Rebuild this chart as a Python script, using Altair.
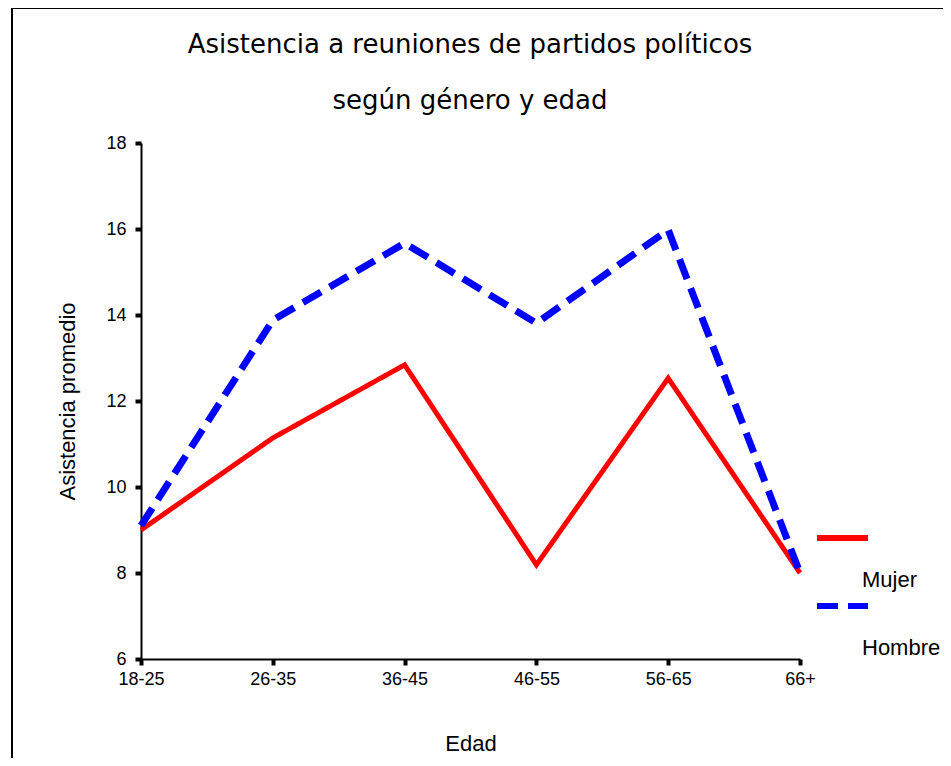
import altair as alt
import pandas as pd

edades = ["18-25", "26-35", "36-45", "46-55", "56-65", "66+"]
mujer = [9.0, 11.14, 12.84, 8.19, 12.53, 8.0]
hombre = [9.1, 13.88, 15.67, 13.81, 15.98, 8.0]
series = ["Mujer", "Hombre"]
colores = ["#FF0000", "#0000FF"]
y_ticks = [6, 8, 10, 12, 14, 16, 18]
titulo = ["Asistencia a reuniones de partidos políticos", "según género y edad"]

rows = []
for s, vals in zip(series, [mujer, hombre]):
    for e, v in zip(edades, vals):
        rows.append({"Edad": e, "Asistencia": v, "Serie": s})
df = pd.DataFrame(rows)
leg_df = pd.DataFrame({"Serie": series})
tit_df = pd.DataFrame({"t": titulo})

color = alt.Color("Serie:N", scale=alt.Scale(domain=series, range=colores), legend=None)
dash = alt.StrokeDash("Serie:N", scale=alt.Scale(domain=series, range=[[1, 0], [21, 10]]), legend=None)
width_enc = alt.StrokeWidth("Serie:N", scale=alt.Scale(domain=series, range=[5, 7]), legend=None)

lines = alt.Chart(df).mark_line(strokeCap="butt", strokeJoin="miter").encode(
    x=alt.X("Edad:N", sort=edades, scale=alt.Scale(type="point", padding=0),
            axis=alt.Axis(title="Edad", labelAngle=0, titlePadding=45)),
    y=alt.Y("Asistencia:Q", scale=alt.Scale(domain=[6, 18], nice=False),
            axis=alt.Axis(title="Asistencia promedio", values=y_ticks, titlePadding=26)),
    color=color,
    strokeDash=dash,
    strokeWidth=width_enc,
    order=alt.Order("Serie:N"),
)

leg_y = alt.Y("Serie:N", scale=alt.Scale(type="point", domain=series, range=[395, 463], padding=0), axis=None)

leg_rules = alt.Chart(leg_df).mark_rule(strokeCap="butt").encode(
    x=alt.value(676), x2=alt.value(727), y=leg_y,
    color=color, strokeDash=dash, strokeWidth=alt.value(6),
)
leg_text = alt.Chart(leg_df).mark_text(
    align="left", baseline="middle", dy=42, fontSize=22, font="Liberation Sans", color="black"
).encode(x=alt.value(721), y=leg_y, text="Serie:N")

tit_y = alt.Y("t:N", sort=titulo, scale=alt.Scale(type="point", domain=titulo, range=[-98, -42], padding=0), axis=None)
title_marks = alt.Chart(tit_df).mark_text(
    align="center", baseline="middle", fontSize=26, font="DejaVu Sans", color="black"
).encode(x=alt.value(329), y=tit_y, text="t:N")

frame = alt.Chart(pd.DataFrame({"a": [0]})).mark_rect(
    fill="transparent", stroke="black", strokeWidth=2
).encode(x=alt.value(-129), x2=alt.value(900), y=alt.value(-135), y2=alt.value(700))

chart = alt.layer(lines, leg_rules, leg_text, title_marks, frame).resolve_scale(
    y="independent"
).properties(
    width=659, height=516,
    autosize=alt.AutoSizeParams(type="none"),
    padding={"left": 133, "top": 135, "right": 143, "bottom": 99},
).configure_view(stroke=None).configure_axis(
    domainColor="black", domainWidth=2, tickColor="black", tickWidth=4, tickSize=6,
    labelColor="black", labelFont="Liberation Sans", titleFont="Liberation Sans",
    titleFontWeight="normal", titleColor="black", grid=False,
).configure_axisY(labelFontSize=18, titleFontSize=22, labelPadding=9).configure_axisX(
    labelFontSize=18, titleFontSize=22, labelPadding=5
)

chart.save("out.html", embed_options={"renderer": "svg", "actions": False})
